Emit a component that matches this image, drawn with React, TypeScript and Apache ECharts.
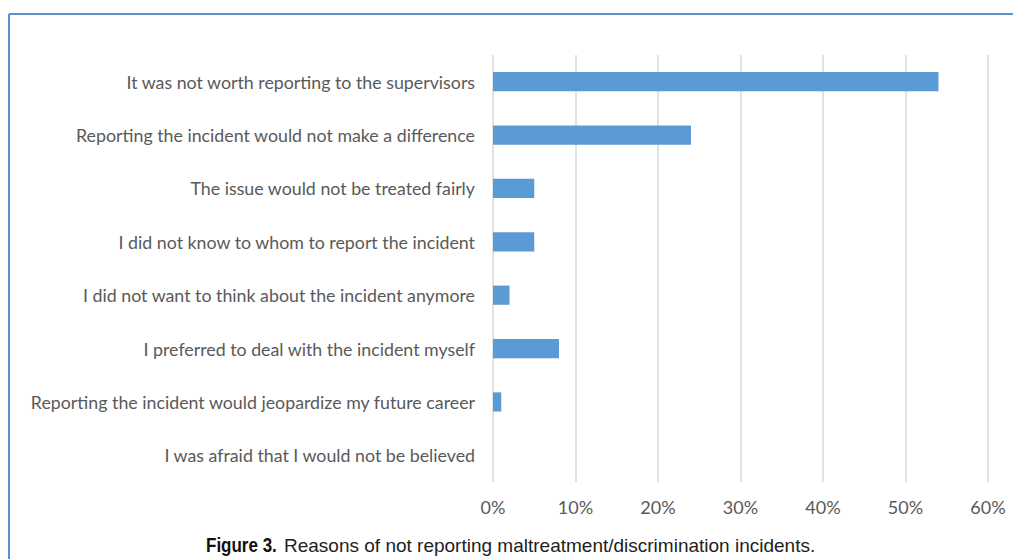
import React, { useEffect, useRef } from "react";
import * as echarts from "echarts";

const categories = [
  "It was not worth reporting to the supervisors",
  "Reporting the incident would not make a difference",
  "The issue would not be treated fairly",
  "I did not know to whom to report the incident",
  "I did not want to think about the incident anymore",
  "I preferred to deal with the incident myself",
  "Reporting the incident would jeopardize my future career",
  "I was afraid that I would not be believed",
];
const percentValues = [54, 24, 5, 5, 2, 8, 1, 0];
const xTicks = { min: 0, max: 60, interval: 10 };
const captionBold = "Figure 3.";
const captionText = "Reasons of not reporting maltreatment/discrimination incidents.";

export default function App() {
  const ref = useRef<HTMLDivElement>(null);
  useEffect(() => {
    if (!ref.current) return;
    const chart = echarts.init(ref.current, undefined, { renderer: "svg" });
    chart.setOption({
      animation: false,
      backgroundColor: "#ffffff",
      grid: { left: 493, top: 55, width: 495, height: 427, containLabel: false },
      xAxis: {
        type: "value",
        min: xTicks.min,
        max: xTicks.max,
        interval: xTicks.interval,
        axisLine: { show: false },
        axisTick: { show: false },
        splitLine: { show: true, lineStyle: { color: "#d9d9d9", width: 1.5 } },
        axisLabel: {
          formatter: "{value}%",
          color: "#595959",
          fontFamily: "Lato",
          fontSize: 18,
          margin: 16,
        },
      },
      yAxis: {
        type: "category",
        data: categories,
        inverse: true,
        axisLine: { show: false },
        axisTick: { show: false },
        splitLine: { show: false },
        axisLabel: {
          color: "#595959",
          fontFamily: "Lato",
          fontSize: 17.8,
          margin: 18,
        },
      },
      series: [
        {
          type: "bar",
          data: percentValues,
          barWidth: "36%",
          itemStyle: { color: "#5b9bd5" },
        },
      ],
      graphic: [
        {
          type: "line",
          shape: { x1: 9, y1: 14, x2: 1013, y2: 14 },
          style: { stroke: "#5b8fd0", lineWidth: 2 },
        },
        {
          type: "line",
          shape: { x1: 9, y1: 14, x2: 9, y2: 559 },
          style: { stroke: "#5b8fd0", lineWidth: 2 },
        },
        {
          type: "text",
          x: 206,
          y: 545,
          scaleX: 0.85,
          style: {
            text: captionBold,
            fontFamily: "Liberation Sans",
            fontWeight: "bold",
            fontSize: 20,
            fill: "#111111",
            verticalAlign: "middle",
          },
        },
        {
          type: "text",
          x: 284,
          y: 545,
          style: {
            text: captionText,
            fontFamily: "Liberation Sans, Arial",
            fontSize: 19,
            fill: "#222222",
            verticalAlign: "middle",
          },
        },
      ],
    });
    return () => chart.dispose();
  }, []);
  return (
    <div
      ref={ref}
      style={{ position: "absolute", left: 0, top: 0, width: 1013, height: 559 }}
    />
  );
}
